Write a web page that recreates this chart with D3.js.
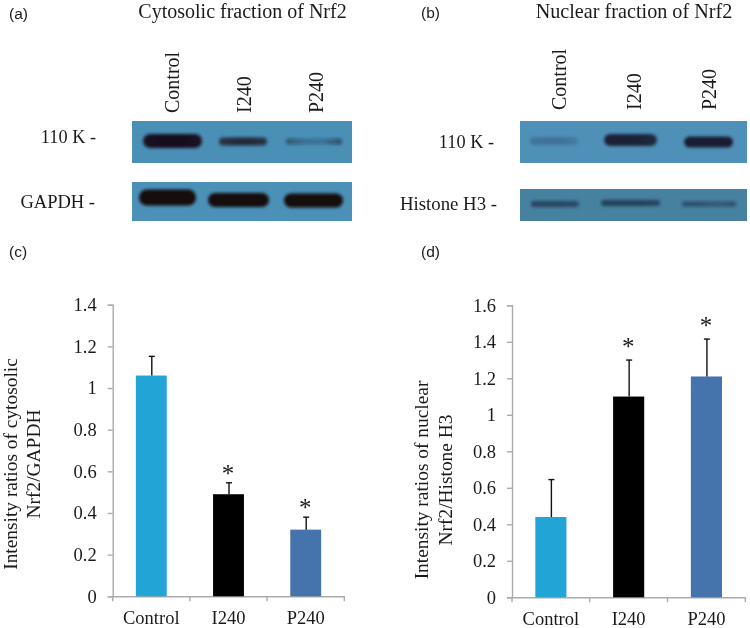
<!DOCTYPE html>
<html><head><meta charset="utf-8">
<script src="https://cdn.jsdelivr.net/npm/d3@7/dist/d3.min.js"></script>
<style>html,body{margin:0;padding:0;background:#fff}svg{display:block;filter:blur(0.35px)}
text{font-family:"Liberation Serif",serif;fill:#1a1a1a}
.sans{font-family:"Liberation Sans",sans-serif}</style></head>
<body><svg id="c" width="750" height="628"></svg>
<script>
const groups = ["Control","I240","P240"];
const cytosolicMeans = [1.06,0.49,0.32];
const cytosolicErrTop = [1.152,0.545,0.38];
const nuclearMeans = [0.44,1.10,1.21];
const nuclearErrTop = [0.645,1.30,1.415];
const cytosolicTicks = [0,0.2,0.4,0.6,0.8,1,1.2,1.4];
const nuclearTicks = [0,0.2,0.4,0.6,0.8,1,1.2,1.4,1.6];
const barColors = ["#22a4d7","#000000","#4474ab"];
const sigFlags = [false,true,true];
// band darkness profile left to right across each lane
const cytoNrf2Bands = [[.95,1,1,.95],[.7,.8,.8,.7],[.5,.22,.2,.55]];
const cytoGapdhBands = [[1,1,1,1],[1,1,1,1],[1,1,1,1]];
const nucNrf2Bands = [[.18,.2,.2,.14],[.9,.92,.9,.85],[.95,.95,.95,.95]];
const nucHistoneBands = [[.6,.6,.6,.5],[.65,.65,.65,.6],[.5,.5,.4,.5]];

const svg = d3.select("#c");
const defs = svg.append("defs");
defs.append("filter").attr("id","bl").attr("x","-30%").attr("y","-80%").attr("width","160%").attr("height","260%")
  .append("feGaussianBlur").attr("stdDeviation","1.6");

function blot(o){
  svg.append("rect").attr("x",o.x0).attr("y",o.y0).attr("width",o.x1-o.x0).attr("height",o.y1-o.y0).attr("fill",o.bg);
  const clip="clip"+o.id;
  defs.append("clipPath").attr("id",clip).append("rect").attr("x",o.x0).attr("y",o.y0).attr("width",o.x1-o.x0).attr("height",o.y1-o.y0);
  const g=svg.append("g").attr("clip-path",`url(#${clip})`).append("g").attr("filter","url(#bl)");
  o.bands.forEach((prof,i)=>{
    const [a,b]=o.lanes[i];
    const gid=`g${o.id}${i}`;
    const lg=defs.append("linearGradient").attr("id",gid);
    const off=d3.scaleLinear().domain([0,prof.length-1]).range([0,1]);
    lg.selectAll("stop").data(prof).join("stop")
      .attr("offset",(d,j)=>off(j)).attr("stop-color",o.ink).attr("stop-opacity",d=>d);
    const h=o.h[i];
    g.append("rect").attr("x",a).attr("width",b-a).attr("y",o.cy[i]-h/2).attr("height",h)
      .attr("rx",h/2).attr("fill",`url(#${gid})`);
  });
}
function textAt(x,y,s,size,anchor,cls,rot){
  const t=svg.append("text").attr("font-size",size).attr("text-anchor",anchor||"start").text(s);
  if(cls)t.attr("class",cls);
  if(rot)t.attr("transform",`translate(${x},${y}) rotate(-90)`);else t.attr("x",x).attr("y",y);
  return t;
}

// --- panel (a)
blot({id:"a1",x0:132,x1:352,y0:121,y1:163,bg:"#4a8fb6",ink:"#17101c",bands:cytoNrf2Bands,
  lanes:[[143,202],[219,267],[286,342]],cy:[141,141.5,141.5],h:[14,8,6]});
blot({id:"a2",x0:132,x1:352,y0:182,y1:221,bg:"#4a90b7",ink:"#150a10",bands:cytoGapdhBands,
  lanes:[[139,196],[208,269],[284,343]],cy:[197.5,200,200.5],h:[16,14,14]});
// --- panel (b)
blot({id:"b1",x0:520,x1:747,y0:121,y1:163,bg:"#4f90b8",ink:"#14142a",bands:nucNrf2Bands,
  lanes:[[530,578],[604,657],[684,733]],cy:[141,140,142],h:[8,12,11]});
blot({id:"b2",x0:520,x1:747,y0:189,y1:221,bg:"#46819f",ink:"#141a38",bands:nucHistoneBands,
  lanes:[[531,579],[601,660],[682,736]],cy:[204,203,204],h:[6,6,5]});

textAt(9,19,"(a)",15.5,"start","sans");
textAt(421,18,"(b)",15.5,"start","sans");
textAt(9,257,"(c)",15.5,"start","sans");
textAt(421,257,"(d)",15.5,"start","sans");
textAt(242.5,18,"Cytosolic fraction of Nrf2",20,"middle");
textAt(634,18,"Nuclear fraction of Nrf2",20.2,"middle");
[[178.5,113],[251,113],[322.5,113]].forEach((p,i)=>textAt(p[0],p[1],groups[i],20,"start",null,true));
[[565.5,110],[640.5,110],[715.5,110]].forEach((p,i)=>textAt(p[0],p[1],groups[i],20,"start",null,true));
textAt(96,143,"110 K -",18.3,"end");
textAt(95,208,"GAPDH -",18.5,"end");
textAt(494,148,"110 K -",18.3,"end");
textAt(497,210,"Histone H3 -",18.8,"end");

function chart(o){
  const x=d3.scaleBand().domain(groups).range([o.left,o.right]).paddingInner(.6).paddingOuter(.3);
  const y=d3.scaleLinear().domain(o.domain).range([o.bottom,o.top]);
  const gy=svg.append("g").attr("transform",`translate(${o.left},0)`)
    .call(d3.axisLeft(y).tickValues(o.ticks).tickFormat(d3.format("~g")).tickSize(5).tickPadding(11));
  const gx=svg.append("g").attr("transform",`translate(0,${o.bottom})`)
    .call(d3.axisBottom(x).tickSize(0).tickPadding(15));
  [gy,gx].forEach(g=>{
    g.selectAll("path,line").attr("stroke","#ababab").attr("stroke-width",1.4);
    g.selectAll("text").attr("font-size",18.5).attr("font-family","Liberation Serif").attr("fill","#1a1a1a");
  });
  const step=x.step();
  gx.selectAll("line.b").data(d3.range(4)).join("line").attr("class","b")
    .attr("x1",i=>o.left+i*step).attr("x2",i=>o.left+i*step).attr("y1",0).attr("y2",5)
    .attr("stroke","#ababab").attr("stroke-width",1.4);
  svg.selectAll(null).data(groups).join("rect")
    .attr("x",d=>x(d)).attr("width",x.bandwidth())
    .attr("y",(d,i)=>y(o.means[i])).attr("height",(d,i)=>y(0)-y(o.means[i]))
    .attr("fill",(d,i)=>barColors[i]);
  const eb=x.bandwidth()/2+o.errDx;
  svg.selectAll(null).data(groups).join("line")
    .attr("x1",d=>x(d)+eb).attr("x2",d=>x(d)+eb)
    .attr("y1",(d,i)=>y(o.means[i])).attr("y2",(d,i)=>y(o.err[i]))
    .attr("stroke","#111").attr("stroke-width",1.4);
  svg.selectAll(null).data(groups).join("line")
    .attr("x1",d=>x(d)+eb-3).attr("x2",d=>x(d)+eb+3)
    .attr("y1",(d,i)=>y(o.err[i])).attr("y2",(d,i)=>y(o.err[i]))
    .attr("stroke","#111").attr("stroke-width",1.4);
  svg.selectAll(null).data(groups.filter((d,i)=>sigFlags[i])).join("text")
    .attr("x",d=>x(d)+eb-1).attr("y",d=>y(o.err[groups.indexOf(d)])+o.starDy)
    .attr("text-anchor","middle").attr("font-size",25).attr("fill","#000").text("*");
  textAt(o.tx[0],o.tcy,o.t1,19.4,"middle",null,true);
  textAt(o.tx[1],o.tcy,o.t2,19.4,"middle",null,true);
}
chart({left:112.7,right:344.3,top:304.7,bottom:596.3,domain:[0,1.4],ticks:cytosolicTicks,
  means:cytosolicMeans,err:cytosolicErrTop,errDx:.5,starDy:-1,tx:[17,40],tcy:464,
  t1:"Intensity ratios of cytosolic",t2:"Nrf2/GAPDH"});
chart({left:512,right:745.3,top:305.3,bottom:597.3,domain:[0,1.6],ticks:nuclearTicks,
  means:nuclearMeans,err:nuclearErrTop,errDx:.5,starDy:-5,tx:[427.5,451.5],tcy:480,
  t1:"Intensity ratios of nuclear",t2:"Nrf2/Histone H3"});
</script></body></html>
